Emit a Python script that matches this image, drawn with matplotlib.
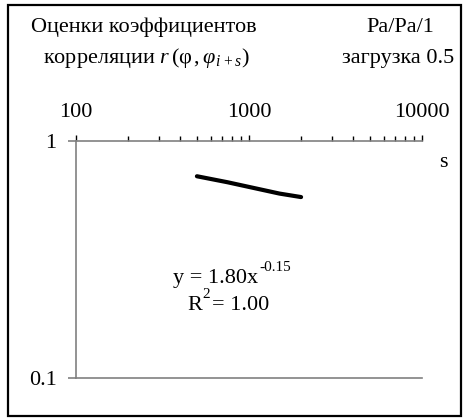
import matplotlib
matplotlib.use("Agg")
import matplotlib.pyplot as plt
from matplotlib.patches import Rectangle
from matplotlib.ticker import LogLocator, NullFormatter, FixedLocator
import numpy as np

plt.rcParams['font.family'] = ['Liberation Serif', 'DejaVu Serif']
plt.rcParams['mathtext.fontset'] = 'custom'
plt.rcParams['mathtext.rm'] = 'Liberation Serif'
plt.rcParams['mathtext.it'] = 'Liberation Serif:italic'

# data
s_vals = [500, 750, 1000, 1500, 2000]
r_vals = [0.71, 0.67, 0.64, 0.60, 0.58]
x_ticks = [100, 1000, 10000]
x_tick_labels = ["100", "1000", "10000"]
y_ticks = [0.1, 1]
y_tick_labels = ["0.1", "1"]

W, H = 464, 419
fig = plt.figure(figsize=(W / 100, H / 100), dpi=100)
fs = 16
fs_sup = 11

grey = '#808080'
ax = fig.add_axes([76 / W, 1 - 378 / H, (422 - 76) / W, (378 - 141) / H])
ax.set_xscale('log')
ax.set_yscale('log')
ax.set_xlim(100, 10000)
ax.set_ylim(0.1, 1)

ax.plot(s_vals, r_vals, color='black', lw=3, solid_capstyle='round')

ax.spines['right'].set_visible(False)
for side in ['left', 'top', 'bottom']:
    ax.spines[side].set_color(grey)
    ax.spines[side].set_linewidth(1.2)

ax.xaxis.set_ticks_position('top')
ax.xaxis.set_major_locator(FixedLocator(x_ticks))
ax.set_xticklabels(x_tick_labels, fontsize=fs)
ax.xaxis.set_minor_locator(LogLocator(base=10, subs=np.arange(2, 10)))
ax.xaxis.set_minor_formatter(NullFormatter())
ax.tick_params(axis='x', which='major', direction='out', length=4, width=1,
               color='black', pad=10)
ax.tick_params(axis='x', which='minor', direction='out', length=3.5, width=1,
               color='black')

ax.yaxis.set_major_locator(FixedLocator(y_ticks))
ax.set_yticklabels(y_tick_labels, fontsize=fs)
ax.yaxis.set_minor_locator(FixedLocator([]))
ax.tick_params(axis='y', which='major', direction='out', length=6, width=1.2,
               color=grey, pad=8)

# texts
fig.text(144 / W, 1 - 27 / H, "Оценки коэффициентов", fontsize=fs,
         ha='center', va='center')
fig.text(146 / W, 1 - 58 / H, r"корреляции $r\,(\mathrm{φ}\,, φ_{i\,+s})$",
         fontsize=fs, ha='center', va='center')
fig.text(400 / W, 1 - 27 / H, "Pa/Pa/1", fontsize=fs, ha='center', va='center')
fig.text(398 / W, 1 - 58 / H, "загрузка 0.5", fontsize=fs, ha='center', va='center')
fig.text(443 / W, 1 - 162 / H, "s", fontsize=fs, ha='center', va='center')

fig.text(173 / W, 1 - 283 / H, "y = 1.80x", fontsize=fs, ha='left', va='baseline')
fig.text(259 / W, 1 - 271 / H, "-0.15", fontsize=fs_sup, ha='left', va='baseline')
fig.text(187 / W, 1 - 310 / H, "R", fontsize=fs, ha='left', va='baseline')
fig.text(202 / W, 1 - 298 / H, "2", fontsize=fs_sup, ha='left', va='baseline')
fig.text(212 / W, 1 - 310 / H, "= 1.00", fontsize=fs, ha='left', va='baseline')

# outer frame
fig.patches.append(Rectangle((7.5 / W, 1 - 416 / H), (461 - 7.5) / W, (416 - 5.5) / H,
                             transform=fig.transFigure, fill=False,
                             edgecolor='black', lw=1.6))

fig.savefig("out.png", dpi=100)
